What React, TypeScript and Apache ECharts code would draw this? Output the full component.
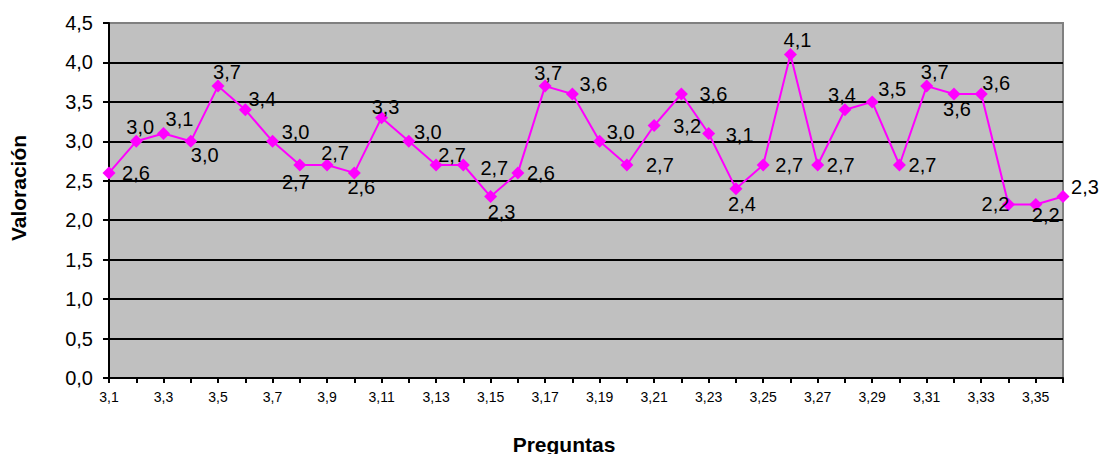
import React, { useEffect, useRef } from "react";
import * as echarts from "echarts";

const categories = [
  "3,1", "3,2", "3,3", "3,4", "3,5", "3,6", "3,7", "3,8", "3,9", "3,10",
  "3,11", "3,12", "3,13", "3,14", "3,15", "3,16", "3,17", "3,18", "3,19", "3,20",
  "3,21", "3,22", "3,23", "3,24", "3,25", "3,26", "3,27", "3,28", "3,29", "3,30",
  "3,31", "3,32", "3,33", "3,34", "3,35", "3,36",
];

const values = [
  2.6, 3.0, 3.1, 3.0, 3.7, 3.4, 3.0, 2.7, 2.7, 2.6,
  3.3, 3.0, 2.7, 2.7, 2.3, 2.6, 3.7, 3.6, 3.0, 2.7,
  3.2, 3.6, 3.1, 2.4, 2.7, 4.1, 2.7, 3.4, 3.5, 2.7,
  3.7, 3.6, 3.6, 2.2, 2.2, 2.3,
];

// data label offsets (dx, dy) from each marker centre, as placed in the original
const labelOffsets: [number, number][] = [
  [27, 0], [4, -14], [16, -14], [14, 14], [9, -14], [17, -11], [23, -9], [-4, 17], [8, -12], [7, 14],
  [4, -11], [19, -9], [16, -10], [31, 3], [11, 15], [23, 0], [3, -13], [21, -10], [21, -9], [33, 0],
  [33, 0], [32, 0], [31, 2], [6, 15], [26, 0], [7, -15], [23, 0], [-3, -15], [20, -13], [23, 0],
  [8, -14], [3, 15], [15, -11], [-13, 0], [10, 11], [22, -10],
];

const yTitle = "Valoración";
const xTitle = "Preguntas";

const FONT = "'Liberation Sans', Arial, sans-serif";

const fmt = (v: number) => v.toFixed(1).replace(".", ",");

export default function App() {
  const ref = useRef<HTMLDivElement>(null);

  useEffect(() => {
    document.body.style.margin = "0";
    if (!ref.current) return;
    const chart = echarts.init(ref.current, null, { renderer: "svg" });

    const splitColors = ["#000", "#000", "#000", "#000", "#000", "#000", "#000", "#000", "#000", "#808080"];

    chart.setOption({
      animation: false,
      backgroundColor: "#fff",
      grid: {
        left: 109,
        right: 39,
        top: 23,
        bottom: 76,
        show: true,
        backgroundColor: "#C0C0C0",
        borderColor: "#808080",
        borderWidth: 2,
      },
      xAxis: {
        type: "category",
        data: categories,
        boundaryGap: false,
        axisLine: { show: true, lineStyle: { color: "#000", width: 2 } },
        axisTick: { show: true, interval: 0, length: 5, lineStyle: { color: "#000", width: 2 } },
        axisLabel: {
          interval: 1,
          fontSize: 14,
          color: "#000",
          margin: 12,
          fontFamily: FONT,
        },
        splitLine: { show: false },
      },
      yAxis: {
        type: "value",
        min: 0,
        max: 4.5,
        interval: 0.5,
        axisLine: { show: true, lineStyle: { color: "#000", width: 2 } },
        axisTick: { show: true, length: 6, lineStyle: { color: "#000", width: 2 } },
        axisLabel: {
          formatter: (v: number) => fmt(v),
          fontSize: 20,
          color: "#000",
          margin: 16,
          fontFamily: FONT,
        },
        splitLine: { show: true, lineStyle: { color: splitColors, width: 2 } },
      },
      graphic: [
        {
          type: "text",
          x: 18,
          y: 188,
          rotation: Math.PI / 2,
          style: {
            text: yTitle,
            fontSize: 21,
            fontWeight: "bold",
            fontFamily: FONT,
            fill: "#000",
            textAlign: "center",
            textVerticalAlign: "middle",
          },
        },
        {
          type: "text",
          x: 564,
          y: 444,
          style: {
            text: xTitle,
            fontSize: 21,
            fontWeight: "bold",
            fontFamily: FONT,
            fill: "#000",
            textAlign: "center",
            textVerticalAlign: "middle",
          },
        },
      ],
      series: [
        {
          type: "line",
          data: values.map((v, i) => ({
            value: v,
            label: { offset: labelOffsets[i] },
          })),
          lineStyle: { color: "#FF00FF", width: 2 },
          itemStyle: { color: "#FF00FF" },
          symbol: "diamond",
          symbolSize: 13,
          label: {
            show: true,
            position: "inside",
            formatter: (p: any) => fmt(p.value),
            fontSize: 20,
            color: "#000",
            fontFamily: FONT,
          },
          z: 5,
        },
      ],
    });

    return () => chart.dispose();
  }, []);

  return <div ref={ref} style={{ width: 1102, height: 454 }} />;
}
